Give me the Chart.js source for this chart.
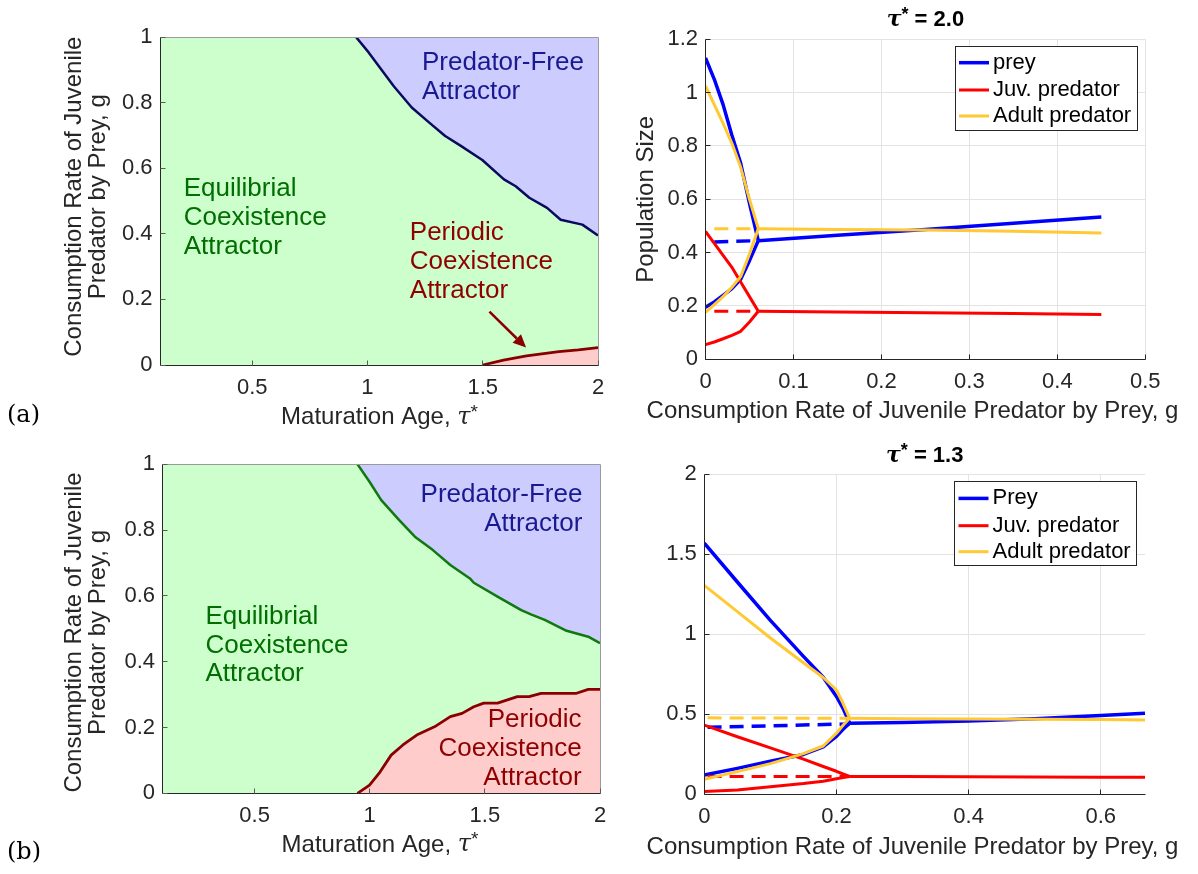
<!DOCTYPE html>
<html lang="en">
<head>
<meta charset="utf-8">
<title>Predator–prey attractors and bifurcation diagrams</title>
<script src="https://cdn.jsdelivr.net/npm/chart.js@4.4.1/dist/chart.umd.min.js"></script>
<style>
  html, body { margin: 0; padding: 0; background: #ffffff; }
  #figure { position: relative; width: 1198px; height: 874px; overflow: hidden; background: #ffffff; }
  #figure canvas { position: absolute; }
</style>
</head>
<body>
<div id="figure">
  <canvas id="regionsA" width="620" height="440" style="left:0px;top:0px"></canvas>
  <canvas id="bifurcationA" width="598" height="440" style="left:600px;top:0px"></canvas>
  <canvas id="regionsB" width="620" height="434" style="left:0px;top:440px"></canvas>
  <canvas id="bifurcationB" width="598" height="434" style="left:600px;top:440px"></canvas>
</div>
<script>
// ---------------- attractor maps in the (tau*, g) plane ----------------
// (a) boundary of the predator-free attractor
const tauFreeEdgeA = [0.95, 1.005, 1.064, 1.115, 1.192, 1.268, 1.337, 1.405, 1.498, 1.592, 1.643, 1.702, 1.779, 1.838, 1.932, 2.0];
const gFreeEdgeA   = [1.0, 0.953, 0.897, 0.849, 0.785, 0.739, 0.698, 0.668, 0.625, 0.566, 0.545, 0.51, 0.479, 0.443, 0.428, 0.395];
// (a) boundary of the periodic coexistence attractor
const tauPeriodicEdgeA = [1.5, 1.59, 1.69, 1.83, 1.915, 2.0];
const gPeriodicEdgeA   = [0, 0.015, 0.028, 0.041, 0.046, 0.053];
// (b) boundary of the predator-free attractor
const tauFreeEdgeB = [0.947, 0.999, 1.05, 1.127, 1.196, 1.273, 1.35, 1.435, 1.452, 1.555, 1.658, 1.7, 1.76, 1.855, 1.949, 2.0];
const gFreeEdgeB   = [1.0, 0.947, 0.891, 0.831, 0.78, 0.74, 0.694, 0.653, 0.64, 0.598, 0.557, 0.544, 0.527, 0.494, 0.476, 0.456];
// (b) boundary of the periodic coexistence attractor
const tauPeriodicEdgeB = [0.947, 0.999, 1.041, 1.093, 1.144, 1.204, 1.281, 1.35, 1.401, 1.452, 1.495, 1.555, 1.641, 1.692, 1.744, 1.898, 1.949, 2.0];
const gPeriodicEdgeB   = [0, 0.025, 0.061, 0.116, 0.147, 0.177, 0.202, 0.233, 0.243, 0.263, 0.274, 0.274, 0.294, 0.294, 0.304, 0.304, 0.316, 0.316];

// ---------------- bifurcation diagram, tau* = 2.0 ----------------
const gOscA      = [0, 0.01, 0.02, 0.03, 0.04, 0.05, 0.06];
const preyMaxA   = [1.13, 1.05, 0.955, 0.84, 0.735, 0.585, 0.445];
const preyMinA   = [0.195, 0.215, 0.24, 0.265, 0.3, 0.37, 0.445];
const juvMaxA    = [0.48, 0.435, 0.39, 0.345, 0.29, 0.235, 0.18];
const juvMinA    = [0.055, 0.065, 0.077, 0.09, 0.105, 0.14, 0.18];
const adultMaxA  = [1.025, 0.955, 0.885, 0.81, 0.72, 0.6, 0.49];
const adultMinA  = [0.176, 0.205, 0.235, 0.27, 0.31, 0.395, 0.49];
const gUnstableA       = [0.01, 0.06];
const preyUnstableA    = [0.44, 0.445];
const juvUnstableA     = [0.18, 0.18];
const adultUnstableA   = [0.49, 0.49];
const gStableA   = [0.06, 0.15, 0.25, 0.35, 0.45];
const preyEqA    = [0.445, 0.465, 0.487, 0.51, 0.534];
const juvEqA     = [0.18, 0.177, 0.175, 0.172, 0.168];
const adultEqA   = [0.49, 0.487, 0.485, 0.48, 0.474];

// ---------------- bifurcation diagram, tau* = 1.3 ----------------
const gOscB      = [0, 0.05, 0.1, 0.15, 0.18, 0.2, 0.21, 0.22];
const preyMaxB   = [1.568, 1.325, 1.085, 0.86, 0.73, 0.61, 0.535, 0.442];
const preyMinB   = [0.119, 0.16, 0.205, 0.247, 0.295, 0.36, 0.405, 0.442];
const juvMaxB    = [0.431, 0.358, 0.288, 0.218, 0.172, 0.142, 0.125, 0.11];
const juvMinB    = [0.015, 0.025, 0.045, 0.065, 0.08, 0.095, 0.103, 0.11];
const adultMaxB  = [1.304, 1.14, 0.975, 0.82, 0.728, 0.65, 0.567, 0.473];
const adultMinB  = [0.092, 0.14, 0.19, 0.252, 0.3, 0.38, 0.43, 0.473];
const gUnstableB       = [0.005, 0.22];
const preyUnstableB    = [0.417, 0.438];
const juvUnstableB     = [0.11, 0.11];
const adultUnstableB   = [0.476, 0.473];
const gStableB   = [0.22, 0.3, 0.4, 0.5, 0.6, 0.667];
const preyEqB    = [0.442, 0.447, 0.457, 0.47, 0.49, 0.505];
const juvEqB     = [0.11, 0.109, 0.108, 0.106, 0.105, 0.104];
const adultEqB   = [0.473, 0.471, 0.469, 0.467, 0.465, 0.463];

// ---------------- tick values and labels ----------------
const tauTicks       = [0.5, 1, 1.5, 2];
const tauTickLabels  = ['0.5', '1', '1.5', '2'];
const gTicks         = [0, 0.2, 0.4, 0.6, 0.8, 1];
const gTickLabels    = ['0', '0.2', '0.4', '0.6', '0.8', '1'];
const rateTicksA      = [0, 0.1, 0.2, 0.3, 0.4, 0.5];
const rateTickLabelsA = ['0', '0.1', '0.2', '0.3', '0.4', '0.5'];
const popTicksA       = [0, 0.2, 0.4, 0.6, 0.8, 1, 1.2];
const popTickLabelsA  = ['0', '0.2', '0.4', '0.6', '0.8', '1', '1.2'];
const rateTicksB      = [0, 0.2, 0.4, 0.6];
const rateTickLabelsB = ['0', '0.2', '0.4', '0.6'];
const popTicksB       = [0, 0.5, 1, 1.5, 2];
const popTickLabelsB  = ['0', '0.5', '1', '1.5', '2'];

const seriesNamesA = ['prey', 'Juv. predator', 'Adult predator'];
const seriesNamesB = ['Prey', 'Juv. predator', 'Adult predator'];

// ---------------- styling ----------------
const SANS  = '"Liberation Sans", Arial, Helvetica, sans-serif';
const SERIF = '"DejaVu Serif", "Liberation Serif", serif';
const INK   = '#262626';
const GRID  = '#e3e3e3';
const PREY_C = '#0000ff', JUV_C = '#ff0000', ADULT_C = '#ffc933';
const EQ_FILL = '#ccffcc', FREE_FILL = '#ccccff', PER_FILL = '#ffcccc';
const FREE_TXT = '#191991', EQ_TXT = '#006e00', PER_TXT = '#8f0000';

const pts = (xs, ys) => xs.map((x, i) => ({ x: x, y: ys[i] }));

function fontStr(size, opts) {
  opts = opts || {};
  return (opts.italic ? 'italic ' : '') + (opts.bold ? 'bold ' : '') + size + 'px ' + (opts.family || SANS);
}
const plain = (text, size, opts) => [{ text: text, font: fontStr(size, opts) }];
const tauStar = (size, bold) => [
  { text: 'τ', font: fontStr(size, { italic: true, bold: bold, family: SERIF }) },
  { text: '*', font: fontStr(Math.round(size * 0.8), { bold: bold }), dy: -size * 0.22 }
];

// Draw a run of differently styled text pieces as one line.
function drawRuns(ctx, runs, x, y, align, color, angle) {
  ctx.save();
  ctx.translate(x, y);
  if (angle) ctx.rotate(angle);
  ctx.fillStyle = color;
  ctx.textBaseline = 'middle';
  ctx.textAlign = 'left';
  let total = 0;
  const widths = runs.map(r => { ctx.font = r.font; const w = ctx.measureText(r.text).width; total += w; return w; });
  let cx = align === 'center' ? -total / 2 : (align === 'right' ? -total : 0);
  runs.forEach((r, i) => { ctx.font = r.font; ctx.fillText(r.text, cx, r.dy || 0); cx += widths[i]; });
  ctx.restore();
}

const crisp = p => Math.round(p - 0.5) + 0.5;

// Axes lines, inward ticks, frame, arrow, legend and labels of one panel.
function panelDecor(spec) {
  return {
    id: 'panelDecor',
    beforeDatasetsDraw(chart) {
      if (!spec.background) return;
      const { ctx, chartArea: a } = chart;
      ctx.save();
      ctx.fillStyle = spec.background;
      ctx.fillRect(a.left, a.top, a.right - a.left, a.bottom - a.top);
      ctx.restore();
    },
    afterDatasetsDraw(chart) {
      const { ctx, chartArea: a, scales } = chart;
      const L = crisp(a.left), R = crisp(a.right), T = crisp(a.top), B = crisp(a.bottom);
      ctx.save();
      ctx.lineWidth = 1;
      if (spec.frame) {
        ctx.strokeStyle = spec.frame;
        ctx.beginPath(); ctx.moveTo(L, T); ctx.lineTo(R, T); ctx.lineTo(R, B); ctx.stroke();
      }
      ctx.strokeStyle = INK;
      ctx.beginPath(); ctx.moveTo(L, T); ctx.lineTo(L, B); ctx.lineTo(R, B); ctx.stroke();
      ctx.strokeStyle = spec.tickColor || INK;
      ctx.beginPath();
      scales.x.ticks.forEach(t => {
        const px = crisp(scales.x.getPixelForValue(t.value));
        ctx.moveTo(px, B); ctx.lineTo(px, B - 5);
      });
      scales.y.ticks.forEach(t => {
        const py = crisp(scales.y.getPixelForValue(t.value));
        ctx.moveTo(L, py); ctx.lineTo(L + 5, py);
      });
      ctx.stroke();

      if (spec.arrow) {
        const ar = spec.arrow;
        const x1 = scales.x.getPixelForValue(ar.from[0]), y1 = scales.y.getPixelForValue(ar.from[1]);
        const x2 = scales.x.getPixelForValue(ar.to[0]),   y2 = scales.y.getPixelForValue(ar.to[1]);
        const ang = Math.atan2(y2 - y1, x2 - x1), c = Math.cos(ang), s = Math.sin(ang);
        const head = 13, half = 6;
        ctx.strokeStyle = ar.color; ctx.fillStyle = ar.color; ctx.lineWidth = 2.5;
        ctx.beginPath(); ctx.moveTo(x1, y1); ctx.lineTo(x2 - head * c, y2 - head * s); ctx.stroke();
        ctx.beginPath();
        ctx.moveTo(x2, y2);
        ctx.lineTo(x2 - head * c + half * s, y2 - head * s - half * c);
        ctx.lineTo(x2 - head * c - half * s, y2 - head * s + half * c);
        ctx.closePath(); ctx.fill();
      }

      if (spec.legend) {
        const g = spec.legend;
        ctx.fillStyle = '#ffffff';
        ctx.fillRect(g.x, g.y, g.w, g.h);
        ctx.strokeStyle = INK; ctx.lineWidth = 1;
        ctx.strokeRect(crisp(g.x), crisp(g.y), Math.round(g.w), Math.round(g.h));
        g.items.forEach((it, i) => {
          const y = g.y + g.rowY[i];
          ctx.strokeStyle = it.color; ctx.lineWidth = it.width;
          ctx.beginPath(); ctx.moveTo(g.x + 4, y); ctx.lineTo(g.x + 34, y); ctx.stroke();
          drawRuns(ctx, plain(it.label, 22), g.x + 38, y, 'left', '#000000');
        });
      }
      ctx.restore();
    },
    afterDraw(chart) {
      const ctx = chart.ctx;
      (spec.texts || []).forEach(t => drawRuns(ctx, t.runs, t.x, t.y, t.align, t.color, t.angle));
    }
  };
}

function linearAxis(ax, fitSize, horizontal) {
  const axis = {
    type: 'linear',
    position: horizontal ? 'bottom' : 'left',
    min: ax.min, max: ax.max,
    afterBuildTicks: scale => { scale.ticks = ax.ticks.map(v => ({ value: v })); },
    ticks: {
      autoSkip: false, maxRotation: 0, minRotation: 0,
      padding: horizontal ? 9.5 : 7.5,
      color: INK,
      font: { family: SANS, size: 22 },
      callback: (v, i) => ax.labels[i]
    },
    grid: { display: !!ax.grid, color: GRID, lineWidth: 1, drawTicks: false },
    border: { display: false }
  };
  if (horizontal) axis.afterFit = s => { s.height = fitSize; };
  else axis.afterFit = s => { s.width = fitSize; };
  return axis;
}

function buildChart(id, o) {
  return new Chart(document.getElementById(id), {
    type: 'line',
    data: { datasets: o.datasets },
    options: {
      responsive: false,
      animation: false,
      devicePixelRatio: 1,
      events: [],
      layout: { padding: o.padding },
      plugins: { legend: { display: false }, tooltip: { enabled: false } },
      elements: { point: { radius: 0 }, line: { tension: 0 } },
      scales: {
        x: linearAxis(o.x, o.xHeight, true),
        y: linearAxis(o.y, o.yWidth, false)
      }
    },
    plugins: [panelDecor(o.decor)]
  });
}

function regionSets(freeTau, freeG, freeLine, perTau, perG, perLine) {
  return [
    { data: pts(freeTau, freeG), borderColor: freeLine, borderWidth: 2.5, backgroundColor: FREE_FILL,
      fill: 'end', pointRadius: 0, clip: 0, borderJoinStyle: 'round', order: 2 },
    { data: pts(perTau, perG), borderColor: perLine, borderWidth: 2.8, backgroundColor: PER_FILL,
      fill: 'start', pointRadius: 0, clip: 0, borderJoinStyle: 'round', order: 1 }
  ];
}

function seriesSets(color, width, order, g, maxV, minV, gU, unstable, gS, stable) {
  const base = { borderColor: color, borderWidth: width, pointRadius: 0, fill: false, order: order,
                 borderJoinStyle: 'round', borderCapStyle: 'butt' };
  return [
    Object.assign({}, base, { data: pts(g, maxV) }),
    Object.assign({}, base, { data: pts(g, minV) }),
    Object.assign({}, base, { data: pts(gU, unstable), borderDash: [14, 8] }),
    Object.assign({}, base, { data: pts(gS, stable) })
  ];
}

function regionTexts(freeAlign, freeX, freeY, eqX, eqY, perAlign, perX, perY) {
  const step = 28.8;
  return [
    { runs: plain('Predator-Free', 26), x: freeX, y: freeY, align: freeAlign, color: FREE_TXT },
    { runs: plain('Attractor', 26), x: freeX, y: freeY + step, align: freeAlign, color: FREE_TXT },
    { runs: plain('Equilibrial', 26), x: eqX, y: eqY, align: 'left', color: EQ_TXT },
    { runs: plain('Coexistence', 26), x: eqX, y: eqY + step, align: 'left', color: EQ_TXT },
    { runs: plain('Attractor', 26), x: eqX, y: eqY + 2 * step, align: 'left', color: EQ_TXT },
    { runs: plain('Periodic', 26), x: perX, y: perY, align: perAlign, color: PER_TXT },
    { runs: plain('Coexistence', 26), x: perX, y: perY + step, align: perAlign, color: PER_TXT },
    { runs: plain('Attractor', 26), x: perX, y: perY + 2 * step, align: perAlign, color: PER_TXT }
  ];
}

function mapAxisTexts(cx, titleY, yCenter) {
  return [
    { runs: plain('Maturation Age, ', 24).concat(tauStar(24, false)), x: cx, y: titleY, align: 'center', color: INK },
    { runs: plain('Consumption Rate of Juvenile', 24), x: 74.4, y: yCenter, align: 'center', color: INK, angle: -Math.PI / 2 },
    { runs: plain('Predator by Prey, g', 24), x: 98.4, y: yCenter, align: 'center', color: INK, angle: -Math.PI / 2 }
  ];
}

function legendSpec(x, y, names) {
  return {
    x: x, y: y, w: 182, h: 84, rowY: [16.7, 44, 70],
    items: [
      { label: names[0], color: PREY_C, width: 3.5 },
      { label: names[1], color: JUV_C, width: 3 },
      { label: names[2], color: ADULT_C, width: 3 }
    ]
  };
}

// ---------------- (a) attractor map ----------------
buildChart('regionsA', {
  padding: { left: 0, top: 37, right: 22, bottom: 0 },
  yWidth: 160, xHeight: 75,
  x: { min: 0.1, max: 2, ticks: tauTicks, labels: tauTickLabels },
  y: { min: 0, max: 1, ticks: gTicks, labels: gTickLabels },
  datasets: regionSets(tauFreeEdgeA, gFreeEdgeA, '#0a0a5e', tauPeriodicEdgeA, gPeriodicEdgeA, '#860000'),
  decor: {
    background: EQ_FILL, frame: '#9a9a9a', tickColor: '#5a5a5a',
    arrow: { from: [1.529, 0.1625], to: [1.688, 0.053], color: '#8a0000' },
    texts: regionTexts('left', 422, 63.3, 183.7, 189, 'left', 409.8, 233.3)
      .concat(mapAxisTexts(379.5, 417.7, 196.7))
      .concat([{ runs: plain('(a)', 24, { family: SERIF }), x: 7, y: 416, align: 'left', color: '#000000' }])
  }
});

// ---------------- (a) bifurcation diagram ----------------
buildChart('bifurcationA', {
  padding: { left: 0, top: 39.3, right: 52.7, bottom: 0 },
  yWidth: 105.5, xHeight: 80.7,
  x: { min: 0, max: 0.5, ticks: rateTicksA, labels: rateTickLabelsA, grid: true },
  y: { min: 0, max: 1.2, ticks: popTicksA, labels: popTickLabelsA, grid: true },
  datasets: []
    .concat(seriesSets(PREY_C, 3.5, 3, gOscA, preyMaxA, preyMinA, gUnstableA, preyUnstableA, gStableA, preyEqA))
    .concat(seriesSets(JUV_C, 3, 2, gOscA, juvMaxA, juvMinA, gUnstableA, juvUnstableA, gStableA, juvEqA))
    .concat(seriesSets(ADULT_C, 3, 1, gOscA, adultMaxA, adultMinA, gUnstableA, adultUnstableA, gStableA, adultEqA)),
  decor: {
    legend: legendSpec(355, 46, seriesNamesA),
    texts: [
      { runs: tauStar(22, true).concat(plain(' = 2.0', 22, { bold: true })), x: 325.4, y: 20, align: 'center', color: '#000000' },
      { runs: plain('Population Size', 24), x: 46, y: 199.3, align: 'center', color: INK, angle: -Math.PI / 2 },
      { runs: plain('Consumption Rate of Juvenile Predator by Prey, g', 24), x: 312.5, y: 411.7, align: 'center', color: INK }
    ]
  }
});

// ---------------- (b) attractor map ----------------
buildChart('regionsB', {
  padding: { left: 0, top: 24.3, right: 20, bottom: 0 },
  yWidth: 162.5, xHeight: 80.7,
  x: { min: 0.1, max: 2, ticks: tauTicks, labels: tauTickLabels },
  y: { min: 0, max: 1, ticks: gTicks, labels: gTickLabels },
  datasets: regionSets(tauFreeEdgeB, gFreeEdgeB, '#0f780f', tauPeriodicEdgeB, gPeriodicEdgeB, '#8a0000'),
  decor: {
    background: EQ_FILL, frame: '#9a9a9a', tickColor: '#5a5a5a',
    texts: regionTexts('right', 582.4, 55, 205.5, 176.7, 'right', 581.6, 280)
      .concat(mapAxisTexts(380, 405, 192.5))
      .concat([{ runs: plain('(b)', 24, { family: SERIF }), x: 7, y: 413, align: 'left', color: '#000000' }])
  }
});

// ---------------- (b) bifurcation diagram ----------------
buildChart('bifurcationB', {
  padding: { left: 0, top: 34, right: 53, bottom: 0 },
  yWidth: 104.3, xHeight: 80,
  x: { min: 0, max: 0.667, ticks: rateTicksB, labels: rateTickLabelsB, grid: true },
  y: { min: 0, max: 2, ticks: popTicksB, labels: popTickLabelsB, grid: true },
  datasets: []
    .concat(seriesSets(PREY_C, 3.5, 3, gOscB, preyMaxB, preyMinB, gUnstableB, preyUnstableB, gStableB, preyEqB))
    .concat(seriesSets(JUV_C, 3, 2, gOscB, juvMaxB, juvMinB, gUnstableB, juvUnstableB, gStableB, juvEqB))
    .concat(seriesSets(ADULT_C, 3, 1, gOscB, adultMaxB, adultMinB, gUnstableB, adultUnstableB, gStableB, adultEqB)),
  decor: {
    legend: legendSpec(354.5, 41.7, seriesNamesB),
    texts: [
      { runs: tauStar(22, true).concat(plain(' = 1.3', 22, { bold: true })), x: 324.7, y: 16, align: 'center', color: '#000000' },
      { runs: plain('Consumption Rate of Juvenile Predator by Prey, g', 24), x: 312.5, y: 407.3, align: 'center', color: INK }
    ]
  }
});
</script>
</body>
</html>
